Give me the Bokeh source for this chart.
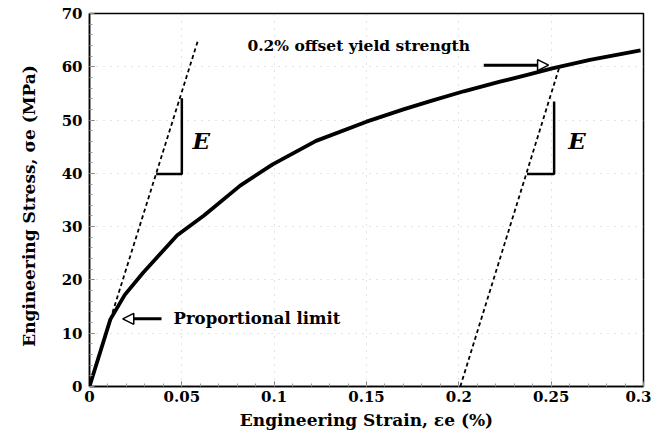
from bokeh.plotting import figure
from bokeh.models import (Range1d, FixedTicker, CustomJSTickFormatter, Arrow,
                          NormalHead, Label)
from bokeh.embed import file_html
from bokeh.resources import INLINE

# ---- data ----
strain = [0.0, 0.0113, 0.0191, 0.0289, 0.0475, 0.062, 0.0816, 0.0992, 0.1227,
          0.15, 0.17, 0.185, 0.2027, 0.2223, 0.236, 0.2506, 0.271, 0.2984]
stress = [0.0, 12.6, 17.2, 21.3, 28.4, 32.1, 37.7, 41.7, 46.1,
          49.7, 52.0, 53.6, 55.4, 57.2, 58.4, 59.7, 61.3, 63.1]

elastic_x = [0.0113, 0.0586]
elastic_y = [12.6, 64.8]
offset_x = [0.2008, 0.2545]
offset_y = [0.0, 60.0]

tri1_x = [0.0361, 0.05, 0.05]
tri1_y = [39.9, 39.9, 54.1]
tri2_x = [0.2369, 0.2516, 0.2516]
tri2_y = [39.9, 39.9, 53.5]

x_ticks = [0, 0.05, 0.1, 0.15, 0.2, 0.25, 0.3]
y_ticks = [0, 10, 20, 30, 40, 50, 60, 70]

FONT = "DejaVu Serif"

p = figure(width=651, height=434, output_backend="svg", toolbar_location=None,
           x_range=Range1d(0, 0.3), y_range=Range1d(0, 70),
           min_border_left=89, min_border_right=8, min_border_top=13,
           min_border_bottom=48)

p.outline_line_color = "black"
p.outline_line_width = 1.5

# grids
for g in (p.xgrid, p.ygrid):
    g.grid_line_color = "#c8c8c8"
    g.grid_line_dash = "1 6"
    g.grid_line_width = 1
p.xgrid.ticker = FixedTicker(ticks=x_ticks)
p.ygrid.ticker = FixedTicker(ticks=y_ticks)

p.xaxis.ticker = FixedTicker(ticks=x_ticks,
                             minor_ticks=[i * 0.01 for i in range(31)])
p.yaxis.ticker = FixedTicker(ticks=y_ticks,
                             minor_ticks=[i * 2 for i in range(36)])
p.xaxis.formatter = CustomJSTickFormatter(
    code="var s = tick.toFixed(2); s = s.replace(/0+$/, ''); s = s.replace(/\\.$/, ''); return s;")

for ax in (p.xaxis, p.yaxis):
    ax.axis_line_color = "black"
    ax.axis_line_width = 1.5
    ax.major_tick_in = 5
    ax.major_tick_out = 0
    ax.minor_tick_in = 3
    ax.minor_tick_out = 0
    ax.major_tick_line_color = "#777777"
    ax.minor_tick_line_color = "#999999"
    ax.major_label_text_font = FONT
    ax.major_label_text_font_style = "bold"
    ax.major_label_text_font_size = "15px"
    ax.major_label_text_color = "black"
    ax.axis_label_text_font = FONT
    ax.axis_label_text_font_style = "bold"
    ax.axis_label_text_font_size = "17px"
    ax.axis_label_text_color = "black"

p.xaxis.major_label_standoff = 4
p.yaxis.major_label_standoff = 7
p.xaxis.axis_label = "Engineering Strain, \u03b5e (%)"
p.yaxis.axis_label = "Engineering Stress,  \u03c3e  (MPa)"
p.xaxis.axis_label_standoff = 5
p.yaxis.axis_label_standoff = 20

# main curve
p.line(strain, stress, line_color="black", line_width=3.8, line_join="round")

# elastic lines (dashed)
p.line(elastic_x, elastic_y, line_color="black", line_width=1.8, line_dash="4 3")
p.line(offset_x, offset_y, line_color="black", line_width=1.8, line_dash="4 3")

# slope triangles
p.line(tri1_x, tri1_y, line_color="black", line_width=2.5)
p.line(tri2_x, tri2_y, line_color="black", line_width=2.5)

# E labels
for ex, ey in [(0.0605, 46.2), (0.264, 46.1)]:
    p.add_layout(Label(x=ex, y=ey, text="E", text_font=FONT,
                       text_font_style="bold italic", text_font_size="23px",
                       text_align="center", text_baseline="middle",
                       text_color="black"))

# annotations
p.add_layout(Label(x=0.0455, y=12.7, text="Proportional limit", text_font=FONT,
                   text_font_style="bold", text_font_size="16.5px",
                   text_align="left", text_baseline="middle", text_color="black"))
p.add_layout(Label(x=0.0855, y=64.0, text="0.2% offset yield strength",
                   text_font=FONT, text_font_style="bold",
                   text_font_size="15.5px", text_align="left",
                   text_baseline="middle", text_color="black"))

head1 = NormalHead(size=11, fill_color="white", line_color="black", line_width=1.5)
p.add_layout(Arrow(end=head1, x_start=0.039, y_start=12.7, x_end=0.018, y_end=12.7,
                   line_width=3, line_color="black"))
head2 = NormalHead(size=11, fill_color="white", line_color="black", line_width=1.5)
p.add_layout(Arrow(end=head2, x_start=0.2135, y_start=60.3, x_end=0.2486, y_end=60.3,
                   line_width=3, line_color="black"))

open("out.html", "w").write(file_html(p, INLINE))
